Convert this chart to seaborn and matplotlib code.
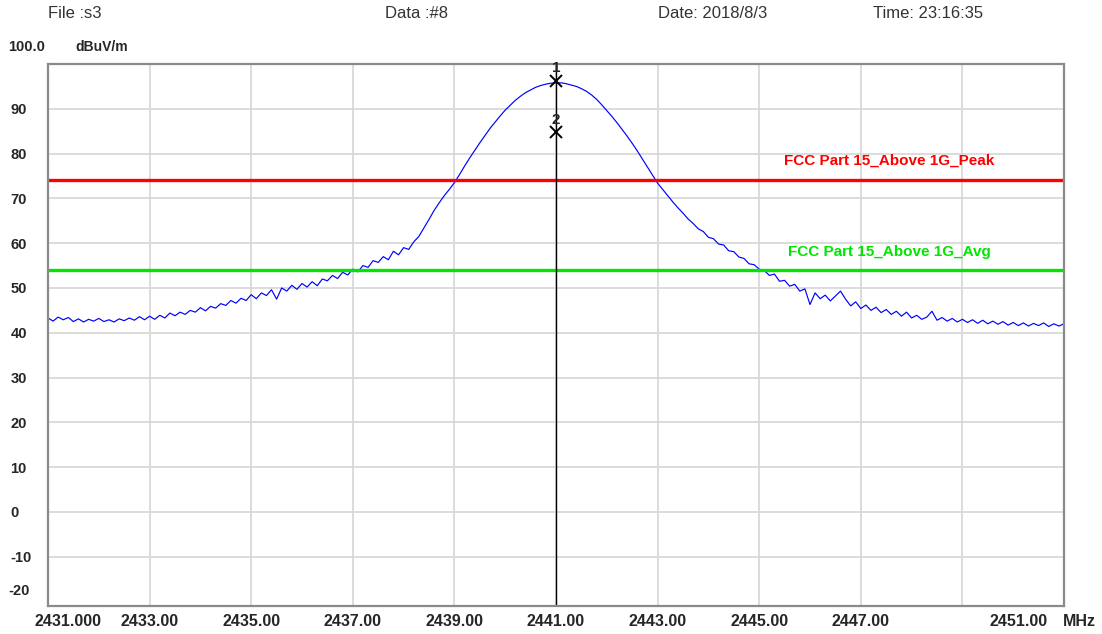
import numpy as np
import pandas as pd
import matplotlib
matplotlib.use("Agg")
import matplotlib.pyplot as plt
import matplotlib.transforms as mtransforms
import seaborn as sns

# sweep 2431 - 2451 MHz, read every 0.1 MHz from the screen shot
level = [
    43.3, 42.6, 43.5, 42.9, 43.4, 42.5, 43.1, 42.4, 43.0, 42.6,
    43.2, 42.5, 42.9, 42.4, 43.1, 42.7, 43.3, 42.8, 43.6, 42.9,
    43.7, 43.0, 43.9, 43.3, 44.4, 43.8, 44.6, 44.1, 45.0, 44.6,
    45.6, 44.9, 45.9, 45.5, 46.5, 46.1, 47.2, 46.6, 47.7, 47.2,
    48.5, 47.6, 48.9, 48.3, 49.6, 47.5, 50.0, 49.3, 50.6, 49.7,
    51.0, 50.2, 51.4, 50.5, 52.0, 51.6, 52.8, 52.1, 53.5, 52.9,
    54.2, 53.6, 55.0, 54.6, 56.1, 55.7, 57.0, 56.3, 58.2, 57.4,
    59.0, 58.6, 60.3, 61.5, 63.4, 65.3, 67.3, 69.0, 70.6, 72.0,
    73.5, 75.3, 77.2, 79.0, 80.7, 82.4, 84.0, 85.6, 87.0, 88.4,
    89.7, 90.8, 91.9, 92.8, 93.6, 94.2, 94.8, 95.2, 95.5, 95.7,
    95.8, 95.8, 95.6, 95.3, 95.0, 94.5, 93.9, 93.1, 92.1, 90.9,
    89.6, 88.3, 86.9, 85.4, 83.9, 82.3, 80.6, 78.8, 77.0, 75.2,
    73.4, 72.0, 70.6, 69.2, 67.9, 66.7, 65.4, 64.4, 63.2, 62.6,
    61.3, 61.0, 59.8, 59.6, 58.3, 58.1, 56.9, 56.6, 55.4, 55.2,
    54.2, 53.9, 52.8, 53.1, 51.5, 51.7, 50.4, 50.8, 49.3, 49.8,
    46.3, 48.9, 47.6, 48.4, 47.1, 48.2, 49.3, 47.5, 46.0, 46.9,
    45.4, 46.2, 45.0, 45.7, 44.5, 45.2, 44.1, 44.8, 43.7, 44.6,
    43.3, 43.9, 43.0, 43.5, 44.8, 42.8, 43.4, 42.6, 43.2, 42.4,
    43.0, 42.3, 42.9, 42.1, 42.8, 42.0, 42.6, 41.9, 42.5, 41.7,
    42.3, 41.6, 42.2, 41.5, 42.1, 41.6, 42.2, 41.4, 42.0, 41.5,
    42.0,
]
freq = np.round(np.linspace(2431.0, 2451.0, len(level)), 1)

limit_names = ["FCC Part 15_Above 1G_Peak", "FCC Part 15_Above 1G_Avg"]
limit_values = [74.0, 54.0]
limit_colors = ["#ff0000", "#00e600"]

marker_ids = ["1", "2"]
marker_freq = [2441.0, 2441.0]
marker_level = [96.2, 84.8]

x_ticks = [2431, 2433, 2435, 2437, 2439, 2441, 2443, 2445, 2447, 2449, 2451]
x_labels = ["", "2433.00", "2435.00", "2437.00", "2439.00", "2441.00",
            "2443.00", "2445.00", "2447.00", "", ""]
y_ticks = [-10, 0, 10, 20, 30, 40, 50, 60, 70, 80, 90]

header = ["File :s3", "Data :#8", "Date: 2018/8/3", "Time: 23:16:35"]
header_x = [48, 385, 658, 873]

df = pd.DataFrame({"freq": freq, "level": level})

sns.set_style("white")
plt.rcParams["font.family"] = ["Liberation Sans", "DejaVu Sans"]

fig = plt.figure(figsize=(11.02, 6.34), dpi=100)
W, H = 1102, 634
ax = fig.add_axes([48 / W, 1 - 606 / H, (1064 - 48) / W, (606 - 64) / H])

sns.lineplot(data=df, x="freq", y="level", color="#0000ff", linewidth=0.85, ax=ax)

ax.set_xlim(2431, 2451)
ax.set_ylim(-21, 100)
ax.set_xticks(x_ticks)
ax.set_xticklabels(x_labels, fontsize=11.5, fontweight="bold")
ax.set_yticks(y_ticks)
ax.set_yticklabels([str(v) for v in y_ticks], fontsize=10.5, fontweight="bold")
ax.tick_params(axis="both", length=0)
ax.tick_params(axis="y", pad=27)
ax.tick_params(axis="x", pad=6)
for lab in ax.get_yticklabels():
    lab.set_horizontalalignment("left")
ax.set_xlabel("")
ax.set_ylabel("")

ax.grid(True, color="#d6d6d6", linewidth=1.2)
for s in ax.spines.values():
    s.set_color("#8a8a8a")
    s.set_linewidth(1.6)

# limit lines
for name, val, col, dy in zip(limit_names, limit_values, limit_colors, [4.3, 4.0]):
    ax.axhline(val, color=col, linewidth=2.4)
    ax.text(0.828, val + dy, name, color=col, fontsize=11, fontweight="bold",
            ha="center", va="center", transform=ax.get_yaxis_transform())

# marker line and markers
ax.axvline(marker_freq[0], color="black", linewidth=1.0)
for mid, mf, ml in zip(marker_ids, marker_freq, marker_level):
    ax.plot(mf, ml, marker="x", color="black", markersize=8, markeredgewidth=1.4)
    ax.text(mf, ml + 2.8, mid, fontsize=11, fontweight="bold", ha="center", va="center")

# edge x labels, shifted inward as in the analyzer print
off_l = mtransforms.ScaledTranslation(20 / 100, 0, fig.dpi_scale_trans)
off_r = mtransforms.ScaledTranslation(-45 / 100, 0, fig.dpi_scale_trans)
bt = mtransforms.blended_transform_factory(ax.transData, fig.transFigure)
ax.text(2431, 1 - 621 / H, "2431.000", fontsize=11.5, fontweight="bold",
        ha="center", va="center", transform=bt + off_l)
ax.text(2451, 1 - 621 / H, "2451.00", fontsize=11.5, fontweight="bold",
        ha="center", va="center", transform=bt + off_r)
fig.text(1063 / W, 1 - 621 / H, "MHz", fontsize=11.5, fontweight="bold",
         ha="left", va="center")

# y axis top/bottom labels and unit
fig.text(8 / W, 1 - 47 / H, "100.0", fontsize=10.5, fontweight="bold", ha="left", va="center")
fig.text(75 / W, 1 - 47 / H, "dBuV/m", fontsize=10, fontweight="bold", ha="left", va="center")
fig.text(8 / W, 1 - 591 / H, "-20", fontsize=10.5, fontweight="bold", ha="left", va="center")

for t, hx in zip(header, header_x):
    fig.text(hx / W, 1 - 13 / H, t, fontsize=12, color="#333333", ha="left", va="center")

fig.savefig("out.png", dpi=100)
